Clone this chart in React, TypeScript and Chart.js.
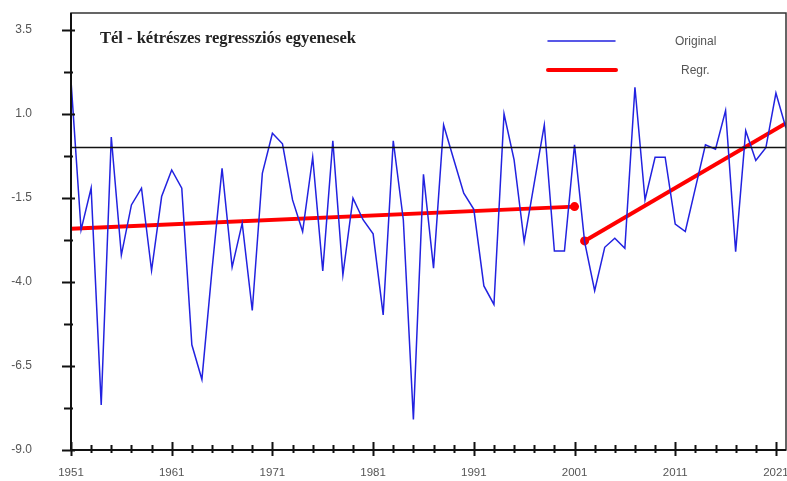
import React, { useEffect, useRef } from "react";
import { Chart, registerables } from "chart.js";
Chart.register(...registerables);

const titleText = "Tél - kétrészes regressziós egyenesek";
const legendLabels = ["Original", "Regr."];
const firstYear = 1951;
const lastYear = 2022;
const years = Array.from({ length: lastYear - firstYear + 1 }, (_, i) => firstYear + i);
const originalValues = [
  1.99, -2.45, -1.21, -7.66, 0.31, -3.2, -1.71, -1.21, -3.66, -1.46,
  -0.67, -1.21, -5.87, -6.9, -3.65, -0.62, -3.56, -2.25, -4.85, -0.77,
  0.42, 0.11, -1.56, -2.5, -0.29, -3.67, 0.2, -3.79, -1.51, -2.15,
  -2.57, -4.98, 0.2, -2.15, -8.09, -0.8, -3.59, 0.67, -0.35, -1.36,
  -1.84, -4.12, -4.67, 1.0, -0.37, -2.8, -1.06, 0.67, -3.08, -3.08,
  0.08, -2.8, -4.26, -2.97, -2.7, -3.0, 1.79, -1.56, -0.29, -0.29,
  -2.28, -2.5, -1.21, 0.08, -0.05, 1.1, -3.1, 0.5, -0.39, -0.01,
  1.62, 0.57,
];
const regrYears1 = [1951, 2001];
const regrValues1 = [-2.42, -1.76];
const regrYears2 = [2002, 2022];
const regrValues2 = [-2.78, 0.72];
const zeroLineValue = 0;
const yMin = -9;
const yMax = 4;
const yTickValues = [-9, -7.75, -6.5, -5.25, -4, -2.75, -1.5, -0.25, 1, 2.25, 3.5];
const yLabelValues = [-9, -6.5, -4, -1.5, 1, 3.5];
const xTickValues = [1951, 1953, 1955, 1957, 1959, 1961, 1963, 1965, 1967, 1969, 1971, 1973, 1975, 1977, 1979, 1981, 1983, 1985, 1987, 1989, 1991, 1993, 1995, 1997, 1999, 2001, 2003, 2005, 2007, 2009, 2011, 2013, 2015, 2017, 2019, 2021];
const xLabelValues = [1951, 1961, 1971, 1981, 1991, 2001, 2011, 2021];

const BLUE = "#2222e0";
const RED = "#ff0000";
const SANS = "'Liberation Sans', Arial, sans-serif";

const decorPlugin = {
  id: "decor",
  afterDraw(chart: any) {
    const { ctx, chartArea, scales } = chart;
    const { left, right, top, bottom } = chartArea;
    const x = scales.x;
    const y = scales.y;
    ctx.save();
    // frame
    ctx.strokeStyle = "#333";
    ctx.lineWidth = 1.5;
    ctx.strokeRect(left, top, right - left, bottom - top);
    ctx.strokeStyle = "#111";
    ctx.lineWidth = 2;
    ctx.beginPath();
    ctx.moveTo(left, top);
    ctx.lineTo(left, bottom);
    ctx.lineTo(right, bottom);
    ctx.stroke();
    // y ticks
    ctx.beginPath();
    yTickValues.forEach((v) => {
      const py = Math.round(y.getPixelForValue(v)) + 0.5;
      const major = yLabelValues.includes(v);
      ctx.moveTo(left - (major ? 9 : 7), py);
      ctx.lineTo(left + (major ? 4 : 2), py);
    });
    ctx.stroke();
    // x ticks
    ctx.beginPath();
    xTickValues.forEach((v) => {
      const px = Math.round(x.getPixelForValue(v)) + 0.5;
      const major = xLabelValues.includes(v);
      ctx.moveTo(px, bottom - (major ? 8 : 5));
      ctx.lineTo(px, bottom + (major ? 6 : 3));
    });
    ctx.stroke();
    // tick labels
    ctx.fillStyle = "#555";
    ctx.font = "12px " + SANS;
    ctx.textBaseline = "middle";
    ctx.textAlign = "right";
    yLabelValues.forEach((v) => {
      ctx.fillText(v.toFixed(1), left - 39, y.getPixelForValue(v));
    });
    ctx.font = "11.5px " + SANS;
    ctx.textAlign = "center";
    xLabelValues.forEach((v) => {
      ctx.fillText(String(v), x.getPixelForValue(v), bottom + 23);
    });
    // title
    ctx.fillStyle = "#222";
    ctx.font = "bold 16.5px 'Liberation Serif', 'Times New Roman', serif";
    ctx.textAlign = "left";
    ctx.fillText(titleText, 100, 39);
    // legend
    ctx.lineCap = "round";
    ctx.strokeStyle = BLUE;
    ctx.lineWidth = 1.5;
    ctx.beginPath();
    ctx.moveTo(548, 41);
    ctx.lineTo(615, 41);
    ctx.stroke();
    ctx.strokeStyle = RED;
    ctx.lineWidth = 4;
    ctx.beginPath();
    ctx.moveTo(548, 70);
    ctx.lineTo(616, 70);
    ctx.stroke();
    ctx.fillStyle = "#555";
    ctx.font = "12px " + SANS;
    ctx.fillText(legendLabels[0], 675, 42);
    ctx.fillText(legendLabels[1], 681, 71);
    ctx.restore();
  },
};

export default function App() {
  const ref = useRef<HTMLCanvasElement | null>(null);
  useEffect(() => {
    document.body.style.margin = "0";
    if (!ref.current) return;
    const chart = new Chart(ref.current, {
      type: "line",
      data: {
        datasets: [
          {
            data: [
              { x: firstYear, y: zeroLineValue },
              { x: lastYear, y: zeroLineValue },
            ],
            borderColor: "#111",
            borderWidth: 1.5,
            pointRadius: 0,
          },
          {
            label: legendLabels[0],
            data: years.map((yr, i) => ({ x: yr, y: originalValues[i] })),
            borderColor: BLUE,
            borderWidth: 1.5,
            pointRadius: 0,
            tension: 0,
          },
          {
            label: legendLabels[1],
            data: regrYears1.map((yr, i) => ({ x: yr, y: regrValues1[i] })),
            borderColor: RED,
            backgroundColor: RED,
            borderWidth: 4,
            pointRadius: [0, 4.5],
            pointBorderWidth: 0,
          },
          {
            label: legendLabels[1],
            data: regrYears2.map((yr, i) => ({ x: yr, y: regrValues2[i] })),
            borderColor: RED,
            backgroundColor: RED,
            borderWidth: 4,
            pointRadius: [4.5, 0],
            pointBorderWidth: 0,
          },
        ],
      },
      options: {
        animation: false,
        responsive: false,
        maintainAspectRatio: false,
        layout: { autoPadding: false, padding: { top: 13, right: 1, left: 0, bottom: 0 } },
        plugins: { legend: { display: false }, tooltip: { enabled: false }, title: { display: false } },
        scales: {
          x: {
            type: "linear",
            min: firstYear,
            max: lastYear,
            afterFit: (s: any) => {
              s.height = 31;
              s.paddingLeft = 0;
              s.paddingRight = 0;
            },
            grid: { display: false, drawTicks: false },
            border: { display: false },
            ticks: { display: false },
          },
          y: {
            type: "linear",
            min: yMin,
            max: yMax,
            afterFit: (s: any) => {
              s.width = 71;
              s.paddingTop = 0;
              s.paddingBottom = 0;
            },
            grid: { display: false, drawTicks: false },
            border: { display: false },
            ticks: { display: false },
          },
        },
      },
      plugins: [decorPlugin],
    });
    return () => chart.destroy();
  }, []);
  return (
    <div style={{ width: 787, height: 481 }}>
      <canvas ref={ref} width={787} height={481} style={{ display: "block" }} />
    </div>
  );
}
